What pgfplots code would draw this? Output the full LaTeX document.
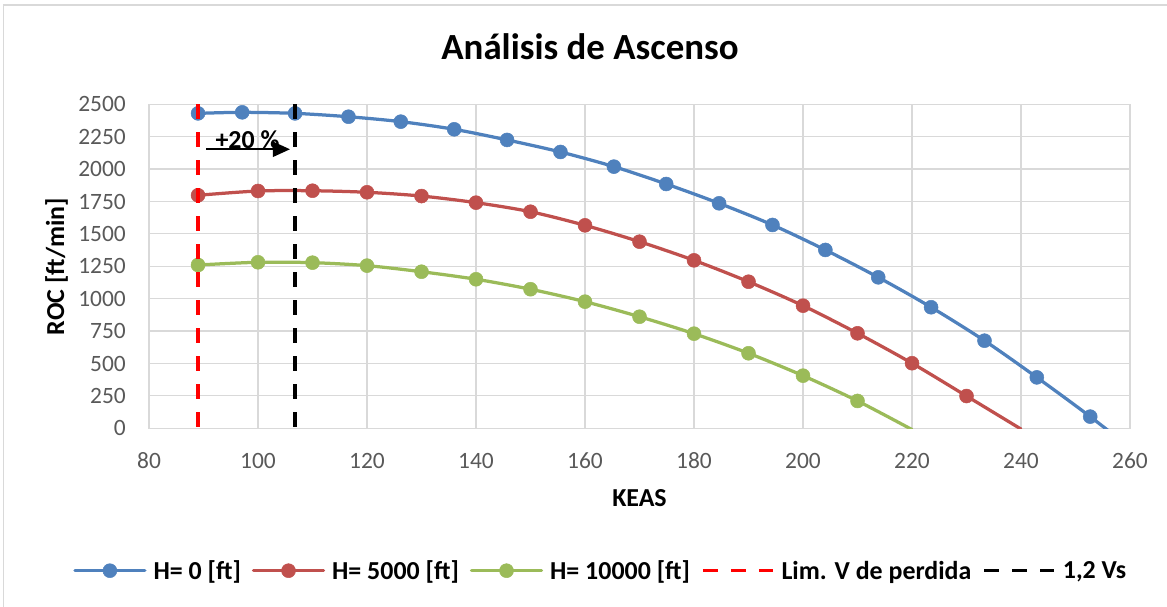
\documentclass[border=0pt]{standalone}
\usepackage{fontspec}
\setmainfont{Carlito}
\usepackage{pgfplots}
\pgfplotsset{compat=1.18}
\usetikzlibrary{arrows.meta}

\definecolor{hzero}{HTML}{4F81BD}
\definecolor{hfive}{HTML}{C0504D}
\definecolor{hten}{HTML}{9BBB59}
\definecolor{gridgray}{HTML}{D9D9D9}
\definecolor{ticktext}{HTML}{595959}

\newcommand{\tickfont}{\fontsize{23.5}{28}\selectfont}
\newcommand{\labfont}{\fontsize{26}{31}\selectfont\bfseries}
\newcommand{\titfont}{\fontsize{37}{44}\selectfont\bfseries}

\begin{document}
\begin{tikzpicture}
\useasboundingbox (0,0) rectangle (1167bp,607bp);
% chart frame
\draw[gridgray, line width=1.2bp] (3.5bp,0) -- (3.5bp,602bp) -- (1167bp,602bp);

\begin{axis}[
  at={(149bp,178.7bp)}, anchor=south west,
  scale only axis, width=981bp, height=324bp,
  xmin=80, xmax=260, ymin=0, ymax=2500,
  xtick={80,100,...,260}, ytick={0,250,...,2500},
  scaled ticks=false,
  /pgf/number format/1000 sep={},
  /pgf/number format/assume math mode=true,
  grid=major,
  major grid style={draw=gridgray, line width=1.2bp},
  axis line style={draw=gridgray, line width=1.2bp},
  tick style={draw=none},
  ticklabel style={font=\tickfont, text=ticktext, inner sep=0pt},
  xticklabel style={anchor=base, yshift=-40bp},
  yticklabel style={anchor=east, xshift=-23bp},
  clip marker paths=true,
  legend columns=5,
  legend style={
    at={(axis description cs:-0.0772,-0.4395)}, anchor=west,
    draw=none, fill=none, inner sep=0pt, outer sep=0pt,
    font=\labfont,
    nodes={inner sep=0pt},
    /tikz/every odd column/.append style={column sep=7bp},
    /tikz/every even column/.append style={column sep=11bp},
  },
  legend image code/.code={
    \draw[#1, mark indices={2}] plot coordinates {(0bp,0bp) (35bp,0bp) (70bp,0bp)};
  },
  series/.style={color=#1, line width=3.25bp, line cap=round, smooth, tension=0.5,
    mark=*, mark size=7bp, mark options={solid, fill=#1, draw=#1, line width=0.5bp}},
  limit/.style={color=#1, line width=3.5bp, dash pattern=on 15bp off 13bp},
]

% H = 0 ft
\addplot[series=hzero, mark indices={1,...,18}] coordinates {
  (89,2430) (97.1,2438) (106.8,2430) (116.6,2404) (126.2,2366) (136.0,2307)
  (145.7,2225) (155.5,2132) (165.3,2019) (174.9,1885) (184.6,1736) (194.4,1569)
  (204.1,1376) (213.8,1165) (223.5,934) (233.3,676) (242.9,393) (252.7,90)
  (262.4,-230)
};
\addlegendentry{H= 0 [ft]}

% H = 5000 ft
\addplot[series=hfive, mark indices={1,...,15}] coordinates {
  (89,1798) (100,1831) (110,1833) (120,1821) (130,1792) (140,1741) (150,1671)
  (160,1566) (170,1440) (180,1296) (190,1131) (200,946) (210,733) (220,502)
  (230,249) (240,-6)
};
\addlegendentry{H= 5000 [ft]}

% H = 10000 ft
\addplot[series=hten, mark indices={1,...,13}] coordinates {
  (89,1260) (100,1281) (110,1278) (120,1255) (130,1208) (140,1150) (150,1073)
  (160,977) (170,861) (180,730) (190,579) (200,406) (210,211) (220,-10)
};
\addlegendentry{H= 10000 [ft]}

% stall speed and 1.2 Vs
\addplot[limit=red] coordinates {(89,2500) (89,0)};
\addlegendentry{Lim. V de perdida}
\addplot[limit=black] coordinates {(106.8,2500) (106.8,0)};
\addlegendentry{1,2 Vs}

% +20 % margin annotation
\draw[-{Triangle[length=17bp,width=15bp]}, line width=2bp, black]
  (axis cs:90.46,2153) -- (axis cs:105.87,2153);
\node[anchor=base, font=\labfont, inner sep=0pt] at (axis cs:98.07,2160) {+20 \%};
\end{axis}

\node[anchor=base, font=\titfont, inner sep=0pt] at (590bp,547.7bp) {Análisis de Ascenso};
\node[anchor=base, font=\labfont, inner sep=0pt, rotate=90] at (64bp,340.3bp) {ROC [ft/min]};
\node[anchor=base, font=\labfont, inner sep=0pt] at (639.5bp,100.3bp) {KEAS};
\end{tikzpicture}
\end{document}
